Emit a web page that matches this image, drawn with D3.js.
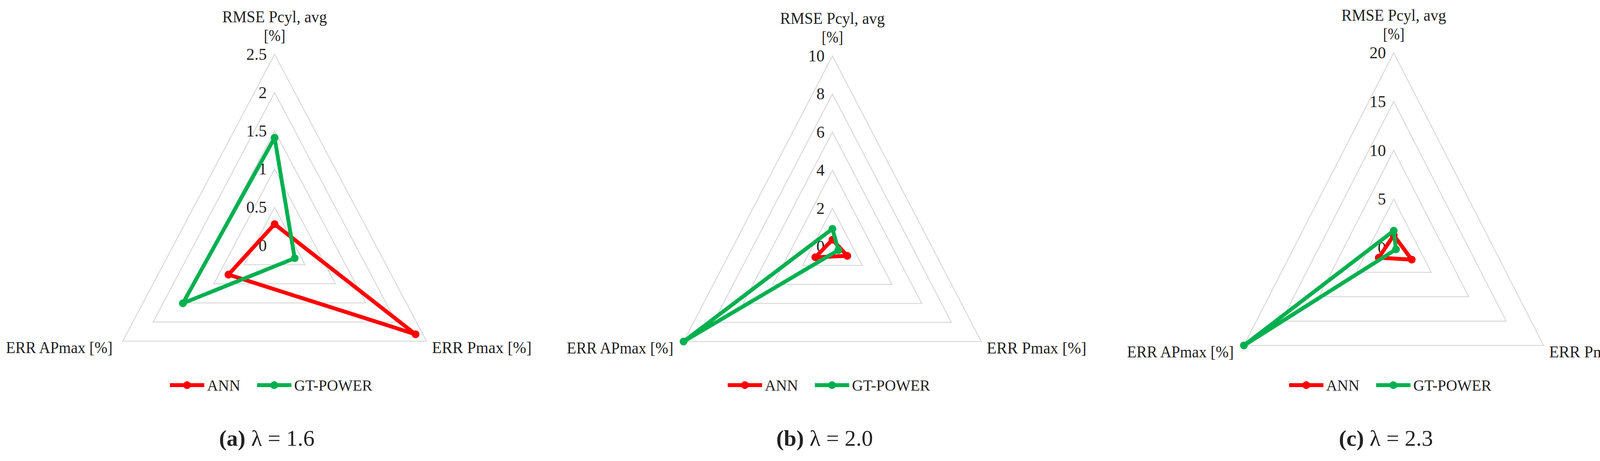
<!DOCTYPE html>
<html>
<head>
<meta charset="UTF-8">
<title>Radar charts</title>
<script src="https://cdn.jsdelivr.net/npm/d3@7"></script>
<style>
  body { margin: 0; background: #fff; }
  text { font-family: "Liberation Serif", "DejaVu Serif", serif; fill: #222; }
</style>
</head>
<body>
<svg id="chart" width="4236" height="1179"></svg>
<script>
// axis names, clockwise from top
const axes = ["RMSE Pcyl, avg [%]", "ERR Pmax  [%]", "ERR APmax [%]"];
const seriesNames = ["ANN", "GT-POWER"];
const seriesColors = ["#ff0000", "#00b050"];

// panel (a) lambda = 1.6
const annA = [0.28, 2.32, 0.76];
const gtA = [1.41, 0.33, 1.51];
const ticksA = [0, 0.5, 1, 1.5, 2, 2.5];
// panel (b) lambda = 2.0
const annB = [0.35, 1.0, 1.15];
const gtB = [0.92, 0.4, 10];
const ticksB = [0, 2, 4, 6, 8, 10];
// panel (c) lambda = 2.3
const annC = [1.3, 2.4, 2.0];
const gtC = [1.76, 0.3, 20];
const ticksC = [0, 5, 10, 15, 20];

const captions = [["(a)", " λ = 1.6"], ["(b)", " λ = 2.0"], ["(c)", " λ = 2.3"]];

const panels = [
  { cx: 703, cy: 628, rx: 449, ry: 489, ticks: ticksA, data: [annA, gtA] },
  { cx: 2131, cy: 630, rx: 440, ry: 487, ticks: ticksB, data: [annB, gtB] },
  { cx: 3568, cy: 634, rx: 443, ry: 499, ticks: ticksC, data: [annC, gtC] }
];

const svg = d3.select("#chart");
const angles = [-Math.PI / 2, Math.PI / 6, Math.PI * 5 / 6];

panels.forEach((p, pi) => {
  const g = svg.append("g");
  const r = d3.scaleLinear().domain([0, d3.max(p.ticks)]).range([0, 1]);
  const pt = (v, i) => [p.cx + Math.cos(angles[i]) * r(v) * p.rx, p.cy + Math.sin(angles[i]) * r(v) * p.ry];

  // grid triangles
  p.ticks.slice(1).forEach(t => {
    g.append("path")
      .attr("d", d3.line()(angles.map((a, i) => pt(t, i))) + "Z")
      .attr("fill", "none").attr("stroke", "#d9d9d9").attr("stroke-width", 2.5);
  });

  // tick labels
  p.ticks.forEach(t => {
    g.append("text").attr("x", p.cx - 20).attr("y", pt(t, 0)[1] + 14)
      .attr("text-anchor", "end").attr("font-size", 42).text(t);
  });

  // axis titles
  const top = pt(d3.max(p.ticks), 0), right = pt(d3.max(p.ticks), 1), left = pt(d3.max(p.ticks), 2);
  g.append("text").attr("x", top[0]).attr("y", top[1] - 82).attr("text-anchor", "middle")
    .attr("font-size", 42).attr("textLength", 268).attr("lengthAdjust", "spacingAndGlyphs").text("RMSE Pcyl, avg");
  g.append("text").attr("x", top[0]).attr("y", top[1] - 34).attr("text-anchor", "middle")
    .attr("font-size", 42).attr("textLength", 55).attr("lengthAdjust", "spacingAndGlyphs").text("[%]");
  g.append("text").attr("x", right[0] + 14).attr("y", right[1] + 30).attr("font-size", 42)
    .attr("textLength", 255).attr("lengthAdjust", "spacingAndGlyphs").text(axes[1]);
  g.append("text").attr("x", left[0] - 26).attr("y", left[1] + 30).attr("text-anchor", "end")
    .attr("font-size", 42).attr("textLength", 273).attr("lengthAdjust", "spacingAndGlyphs").text(axes[2]);

  // series
  p.data.forEach((vals, si) => {
    const pts = vals.map((v, i) => pt(v, i));
    g.append("path").attr("d", d3.line()(pts) + "Z")
      .attr("fill", "none").attr("stroke", seriesColors[si]).attr("stroke-width", 10)
      .attr("stroke-linejoin", "round");
    g.selectAll(null).data(pts).enter().append("circle")
      .attr("cx", d => d[0]).attr("cy", d => d[1]).attr("r", 10).attr("fill", seriesColors[si]);
  });

  // legend
  const lx = p.cx - 268, ly = 985;
  seriesNames.forEach((name, si) => {
    const x0 = lx + si * 223;
    g.append("line").attr("x1", x0).attr("x2", x0 + 88).attr("y1", ly).attr("y2", ly)
      .attr("stroke", seriesColors[si]).attr("stroke-width", 10);
    g.append("circle").attr("cx", x0 + 44).attr("cy", ly).attr("r", 10).attr("fill", seriesColors[si]);
    g.append("text").attr("x", x0 + 95).attr("y", ly + 14).attr("font-size", 40)
      .attr("textLength", si ? 200 : 85).attr("lengthAdjust", "spacingAndGlyphs").text(name);
  });

  // caption
  const cap = g.append("text").attr("x", p.cx - 20).attr("y", 1140).attr("text-anchor", "middle").attr("font-size", 58);
  cap.append("tspan").attr("font-weight", "bold").text(captions[pi][0]);
  cap.append("tspan").text(captions[pi][1]);
});
</script>
</body>
</html>
